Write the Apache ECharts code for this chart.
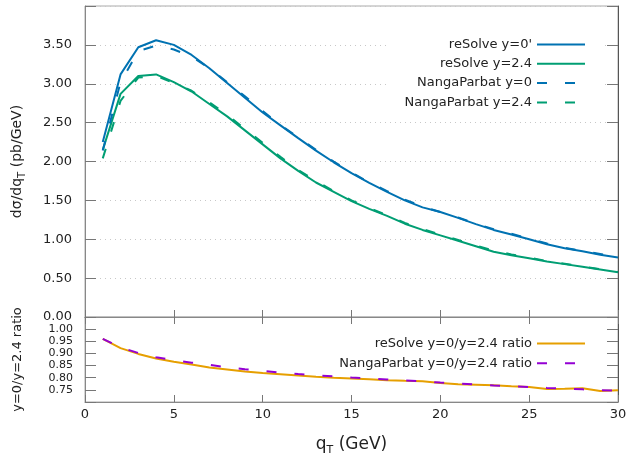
<!DOCTYPE html>
<html><head><meta charset="utf-8">
<script src="https://cdn.jsdelivr.net/npm/echarts@6/dist/echarts.min.js"></script>
<style>html,body{margin:0;padding:0;background:#fff}#c{width:630px;height:457px}</style>
</head><body><div id="c"></div>
<script>
const FONT = 'DejaVu Sans';
const qT = [1,2,3,4,5,6,7,8,9,10,11,12,13,14,15,16,17,18,19,20,21,22,23,24,25,26,27,28,29,30];
const resolveY0  = [2.25,3.12,3.47,3.56,3.50,3.37,3.20,3.01,2.82,2.63,2.465,2.30,2.14,1.99,1.85,1.725,1.61,1.50,1.41,1.35,1.275,1.195,1.12,1.06,1.00,0.935,0.885,0.845,0.80,0.765];
const resolveY24 = [2.15,2.87,3.10,3.12,3.02,2.90,2.74,2.58,2.40,2.22,2.04,1.88,1.73,1.61,1.49,1.39,1.30,1.20,1.12,1.05,0.98,0.91,0.84,0.795,0.755,0.715,0.68,0.645,0.61,0.575];
const nangaY0    = [2.14,3.02,3.42,3.49,3.44,3.35,3.20,3.02,2.84,2.65,2.47,2.31,2.15,2.00,1.86,1.73,1.62,1.51,1.42,1.35,1.28,1.20,1.13,1.07,1.01,0.945,0.89,0.85,0.81,0.77];
const nangaY24   = [2.04,2.78,3.08,3.10,3.01,2.91,2.76,2.60,2.42,2.24,2.06,1.89,1.75,1.62,1.50,1.40,1.31,1.21,1.13,1.06,0.99,0.92,0.855,0.805,0.765,0.72,0.685,0.65,0.615,0.58];
const resolveRatio = [0.96,0.922,0.898,0.879,0.866,0.854,0.842,0.834,0.826,0.819,0.814,0.809,0.804,0.800,0.797,0.794,0.790,0.787,0.785,0.778,0.773,0.771,0.769,0.765,0.762,0.754,0.755,0.757,0.745,0.748];
const nangaRatio   = [0.96,0.925,0.902,0.884,0.872,0.862,0.853,0.843,0.835,0.828,0.821,0.815,0.810,0.806,0.801,0.797,0.793,0.789,0.785,0.780,0.776,0.772,0.768,0.765,0.762,0.758,0.755,0.752,0.749,0.746];

const names = ["reSolve y=0'", 'reSolve y=2.4', 'NangaParbat y=0', 'NangaParbat y=2.4',
               'reSolve y=0/y=2.4 ratio', 'NangaParbat y=0/y=2.4 ratio'];
const BLUE = '#0072B2', GREEN = '#009E73', ORANGE = '#E69F00', PURPLE = '#9400D3';
const DASH = [10, 18];

function pts(ys) { return qT.map((x, i) => [x, ys[i]]); }
function line(name, ys, color, dashed, xi, yi) {
  return {
    name, type: 'line', xAxisIndex: xi, yAxisIndex: yi, data: pts(ys),
    symbol: 'none', showSymbol: false, smooth: false,
    lineStyle: { color, width: 2, type: dashed ? DASH : 'solid' },
    itemStyle: { color }
  };
}
const txt = { color: '#222', fontFamily: FONT };
function xAx(grid, pos, labels) {
  return {
    type: 'value', gridIndex: grid, position: pos, min: 0, max: 30, interval: 5,
    axisLine: { show: true, onZero: false, lineStyle: { color: '#888', width: 1 } },
    axisTick: { show: true, inside: true, length: 7, lineStyle: { color: '#777' } },
    axisLabel: labels ? Object.assign({ show: true, fontSize: 13, margin: 6 }, txt) : { show: false },
    splitLine: { show: false }
  };
}
function yAx(grid, pos, min, max, interval, labels, fs, margin, hideFn) {
  return {
    type: 'value', gridIndex: grid, position: pos, min, max, interval,
    axisLine: { show: true, onZero: false, lineStyle: { color: pos === 'right' ? '#555' : '#888', width: 1 } },
    axisTick: { show: true, inside: true, length: 11, lineStyle: { color: '#777' } },
    axisLabel: labels ? Object.assign({ show: true, fontSize: fs, margin,
      formatter: v => hideFn(v) ? '' : v.toFixed(2) }, txt) : { show: false },
    splitLine: { show: false }
  };
}

const y0 = yAx(0, 'left', 0, 4, 0.5, true, 13, 13, v => v > 3.9);
y0.splitLine = { show: true, lineStyle: { color: '#c8c8c8', width: 1, type: [1, 4] } };
y0.name = '{n|dσ/dq}{s|T}{n| (pb/GeV)}';
y0.nameLocation = 'middle';
y0.nameGap = 58;
y0.nameTextStyle = { rich: {
  n: { fontSize: 14, lineHeight: 19, color: '#222', fontFamily: FONT },
  s: { fontSize: 10, lineHeight: 11, verticalAlign: 'bottom', color: '#222', fontFamily: FONT }
} };
const y2 = yAx(1, 'left', 0.7, 1.05, 0.05, true, 11, 12, v => (v < 0.72 || v > 1.02));
y2.name = 'y=0/y=2.4 ratio';
y2.nameLocation = 'middle';
y2.nameGap = 61;
y2.nameTextStyle = { fontSize: 13, color: '#222', fontFamily: FONT };

const x1 = xAx(1, 'bottom', true);
x1.name = '{n|q}{s|T}{n| (GeV)}';
x1.nameLocation = 'middle';
x1.nameGap = 32;
x1.nameTextStyle = { rich: {
  n: { fontSize: 17, lineHeight: 22, color: '#222', fontFamily: FONT },
  s: { fontSize: 11, lineHeight: 13, verticalAlign: 'bottom', color: '#222', fontFamily: FONT }
} };

const option = {
  animation: false,
  backgroundColor: '#fff',
  grid: [
    { left: 85, top: 6, width: 533, height: 311, show: true, borderColor: '#aaa', borderWidth: 1, backgroundColor: 'transparent' },
    { left: 85, top: 317, width: 533, height: 85, show: true, borderColor: '#aaa', borderWidth: 1, backgroundColor: 'transparent' }
  ],
  xAxis: [ xAx(0, 'bottom', false), x1, xAx(1, 'top', false) ],
  yAxis: [ y0, yAx(0, 'right', 0, 4, 0.5, false), y2, yAx(1, 'right', 0.7, 1.05, 0.05, false) ],
  legend: [
    { data: names.slice(0, 4), orient: 'vertical', align: 'right', right: 27, top: 30,
      padding: [8, 17, 8, 18], backgroundColor: '#fff', itemWidth: 48, itemHeight: 12, itemGap: 6.3,
      itemStyle: { opacity: 0 },
      textStyle: { fontSize: 13, lineHeight: 12, color: '#222', fontFamily: FONT } },
    { data: names.slice(4), orient: 'vertical', align: 'right', right: 44, top: 337,
      padding: 0, itemWidth: 48, itemHeight: 12, itemGap: 6.7,
      itemStyle: { opacity: 0 },
      textStyle: { fontSize: 13, lineHeight: 12, color: '#222', fontFamily: FONT } }
  ],
  series: [
    line(names[0], resolveY0, BLUE, false, 0, 0),
    line(names[1], resolveY24, GREEN, false, 0, 0),
    line(names[2], nangaY0, BLUE, true, 0, 0),
    line(names[3], nangaY24, GREEN, true, 0, 0),
    line(names[4], resolveRatio, ORANGE, false, 1, 2),
    line(names[5], nangaRatio, PURPLE, true, 1, 2)
  ]
};
const chart = echarts.init(document.getElementById('c'), null, { renderer: 'canvas' });
chart.setOption(option);
</script></body></html>
